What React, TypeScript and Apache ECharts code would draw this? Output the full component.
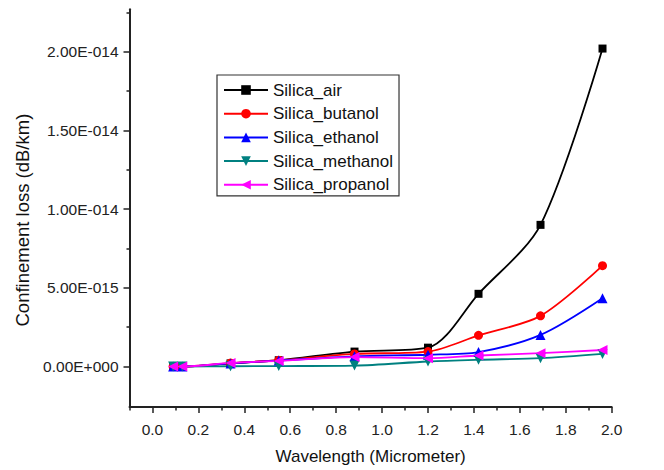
import React, { useEffect, useRef } from "react";
import * as echarts from "echarts";

const wavelength = [0.09, 0.13, 0.34, 0.55, 0.88, 1.2, 1.42, 1.69, 1.96];
const silicaAir = [0, 0, 0.2e-15, 0.4e-15, 0.95e-15, 1.2e-15, 4.62e-15, 9.0e-15, 20.2e-15];
const silicaButanol = [0, 0, 0.22e-15, 0.4e-15, 0.8e-15, 0.95e-15, 1.98e-15, 3.22e-15, 6.41e-15];
const silicaEthanol = [0, 0, 0.2e-15, 0.38e-15, 0.65e-15, 0.75e-15, 0.92e-15, 2.01e-15, 4.34e-15];
const silicaMethanol = [0, 0, 0.02e-15, 0.03e-15, 0.06e-15, 0.32e-15, 0.43e-15, 0.53e-15, 0.8e-15];
const silicaPropanol = [0, 0, 0.23e-15, 0.36e-15, 0.6e-15, 0.53e-15, 0.7e-15, 0.85e-15, 1.05e-15];

const seriesNames = ["Silica_air", "Silica_butanol", "Silica_ethanol", "Silica_methanol", "Silica_propanol"];
const xMajorTicks = [0, 0.2, 0.4, 0.6, 0.8, 1.0, 1.2, 1.4, 1.6, 1.8, 2.0];
const xMinorTicks = [-0.1, 0.1, 0.3, 0.5, 0.7, 0.9, 1.1, 1.3, 1.5, 1.7, 1.9];
const yMajorTicks = [0, 5e-15, 1e-14, 1.5e-14, 2e-14];
const yMinorTicks = [2.5e-15, 7.5e-15, 1.25e-14, 1.75e-14, 2.25e-14];

const FONT = "Liberation Sans, Arial, sans-serif";

function fmtSci(v: number): string {
  if (Math.abs(v) < 1e-22) return "0.00E+000";
  const e = Math.floor(Math.log10(Math.abs(v)) + 1e-9);
  const m = v / Math.pow(10, e);
  return m.toFixed(2) + "E" + (e < 0 ? "-" : "+") + String(Math.abs(e)).padStart(3, "0");
}

export default function App() {
  const ref = useRef<HTMLDivElement>(null);
  useEffect(() => {
    if (!ref.current) return;
    const chart = echarts.init(ref.current, null, { renderer: "svg" });
    const XMIN = -0.1, XMAX = 2.0, YMIN = -2.57e-15, YMAX = 2.27e-14;
    const axisColor = "#222";
    const mk = (name: string, data: number[], color: string, symbol: string, rot: number, size: number) => ({
      name,
      type: "line",
      xAxisIndex: 0,
      yAxisIndex: 0,
      data: wavelength.map((x, i) => [x, data[i]]),
      smooth: 0.3,
      symbol,
      symbolRotate: rot,
      symbolSize: size,
      lineStyle: { color, width: 1.8 },
      itemStyle: { color },
      z: 3,
    });
    chart.setOption({
      animation: false,
      backgroundColor: "#fff",
      grid: { left: 129.5, right: 52.3, top: 9.2, bottom: 62.5, containLabel: false },
      legend: {
        data: seriesNames,
        orient: "vertical",
        left: 217,
        top: 75,
        padding: [5, 6, 1, 6],
        itemGap: 3.7,
        itemWidth: 44,
        itemHeight: 12,
        backgroundColor: "#fff",
        borderColor: "#333",
        borderWidth: 1.2,
        borderRadius: 0,
        textStyle: { fontSize: 17, fontFamily: FONT, color: "#111", lineHeight: 20 },
      },
      xAxis: [
        {
          type: "value",
          min: XMIN,
          max: XMAX,
          name: "Wavelength (Micrometer)",
          nameLocation: "middle",
          nameGap: 41,
          nameTextStyle: { fontSize: 17, fontFamily: FONT, color: "#111" },
          axisLine: { show: true, onZero: false, lineStyle: { color: axisColor, width: 2 } },
          axisTick: { show: true, inside: false, length: 6, customValues: xMajorTicks, lineStyle: { color: axisColor, width: 1.5 } },
          axisLabel: {
            customValues: xMajorTicks,
            margin: 14,
            fontSize: 15.5,
            fontFamily: FONT,
            color: "#222",
            formatter: (v: number) => v.toFixed(1),
          },
          splitLine: { show: false },
        },
        {
          type: "value",
          min: XMIN,
          max: XMAX,
          position: "bottom",
          axisLine: { show: false, onZero: false },
          axisTick: { show: true, inside: false, length: 3.5, customValues: xMinorTicks, lineStyle: { color: axisColor, width: 1.5 } },
          axisLabel: { show: false },
          splitLine: { show: false },
        },
      ],
      yAxis: [
        {
          type: "value",
          min: YMIN,
          max: YMAX,
          name: "Confinement loss (dB/km)",
          nameLocation: "middle",
          nameGap: 96,
          nameRotate: 90,
          nameTextStyle: { fontSize: 18.5, fontFamily: FONT, color: "#111", padding: [0, 0, 0, -24] },
          axisLine: { show: true, onZero: false, lineStyle: { color: axisColor, width: 2 } },
          axisTick: { show: true, inside: false, length: 6, customValues: yMajorTicks, lineStyle: { color: axisColor, width: 1.5 } },
          axisLabel: {
            customValues: yMajorTicks,
            margin: 11,
            fontSize: 15.5,
            fontFamily: FONT,
            color: "#222",
            formatter: (v: number) => fmtSci(v),
          },
          splitLine: { show: false },
        },
        {
          type: "value",
          min: YMIN,
          max: YMAX,
          position: "left",
          axisLine: { show: false, onZero: false },
          axisTick: { show: true, inside: false, length: 3, customValues: yMinorTicks, lineStyle: { color: axisColor, width: 1.5 } },
          axisLabel: { show: false },
          splitLine: { show: false },
        },
      ],
      series: [
        mk("Silica_air", silicaAir, "#000000", "rect", 0, 8),
        mk("Silica_butanol", silicaButanol, "#ff0000", "circle", 0, 9),
        mk("Silica_ethanol", silicaEthanol, "#0000ff", "triangle", 0, 10),
        mk("Silica_methanol", silicaMethanol, "#008080", "triangle", 180, 10),
        mk("Silica_propanol", silicaPropanol, "#ff00ff", "triangle", 90, 10),
      ],
    });
    return () => chart.dispose();
  }, []);
  return <div ref={ref} style={{ position: "fixed", left: 0, top: 0, width: 664, height: 470 }} />;
}
